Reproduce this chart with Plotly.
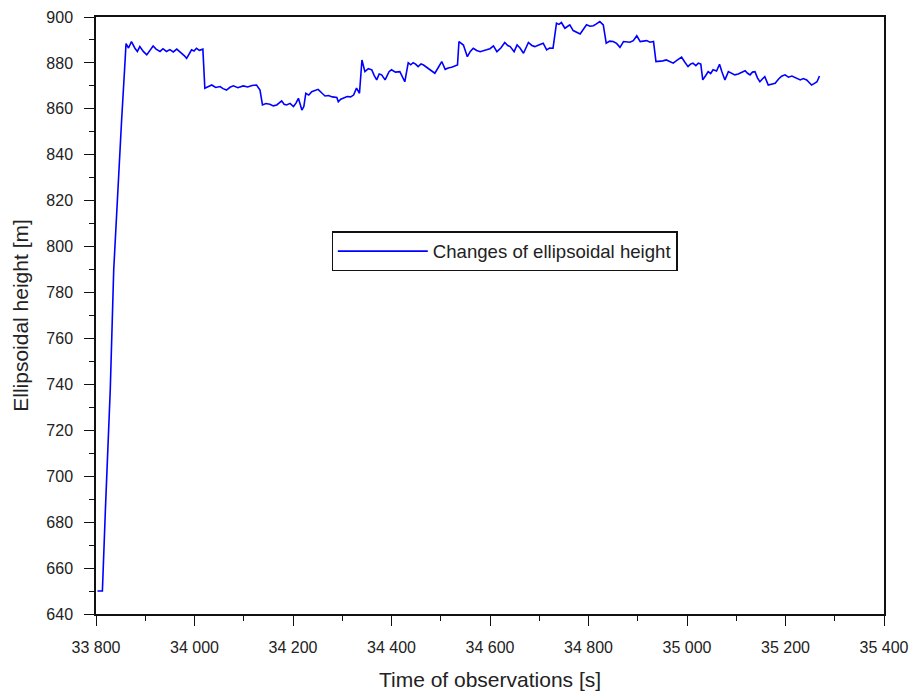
import plotly.graph_objects as go

# Time of observations [s]
time_s = [
    33803, 33813, 33819, 33825, 33829, 33836, 33845, 33852, 33858, 33861, 33866, 33872,
    33879, 33884, 33889, 33896, 33903, 33909, 33916, 33922, 33930, 33936, 33943, 33950,
    33957, 33964, 33969, 33974, 33979, 33984, 33989, 33994, 33999, 34004, 34010, 34017,
    34021, 34028, 34035, 34043, 34052, 34058, 34065, 34072, 34079, 34088, 34099, 34108,
    34117, 34126, 34133, 34138, 34145, 34153, 34160, 34167, 34172, 34177, 34182, 34187,
    34194, 34201, 34206, 34211, 34218, 34222, 34226, 34232, 34238, 34245, 34251, 34258,
    34265, 34272, 34280, 34289, 34292, 34297, 34302, 34310, 34317, 34323, 34329, 34335,
    34340, 34346, 34353, 34360, 34365, 34370, 34375, 34380, 34387, 34395, 34400, 34408,
    34417, 34422, 34427, 34434, 34439, 34444, 34449, 34454, 34460, 34465, 34472, 34478,
    34483, 34488, 34495, 34502, 34509, 34515, 34522, 34528, 34534, 34537, 34541, 34546,
    34554, 34560, 34566, 34573, 34580, 34587, 34593, 34600, 34607, 34614, 34622, 34630,
    34636, 34641, 34649, 34655, 34661, 34668, 34673, 34678, 34685, 34691, 34699, 34708,
    34715, 34721, 34728, 34735, 34740, 34745, 34752, 34757, 34762, 34769, 34776, 34783,
    34790, 34796, 34803, 34810, 34816, 34823, 34830, 34836, 34843, 34850, 34857, 34864,
    34871, 34877, 34884, 34891, 34898, 34905, 34911, 34918, 34925, 34932, 34937, 34945,
    34951, 34958, 34965, 34972, 34980, 34989, 34995, 35002, 35007, 35012, 35018, 35023,
    35028, 35032, 35038, 35043, 35048, 35053, 35060, 35066, 35071, 35077, 35084, 35090,
    35097, 35104, 35111, 35118, 35123, 35128, 35133, 35138, 35143, 35148, 35153, 35158,
    35165, 35172, 35179, 35186, 35192, 35199, 35206, 35213, 35220, 35230, 35236, 35243,
    35248, 35253, 35258, 35264, 35269,
]

# Ellipsoidal height [m]
height_m = [
    650.0, 650.0, 685.0, 721.0, 738.0, 790.0, 830.0, 855.0, 877.0, 888.4, 886.5, 889.3,
    886.4, 885.0, 887.1, 885.0, 883.5, 885.5, 887.4, 886.0, 885.0, 886.2, 885.0, 885.8,
    884.8, 886.0, 885.2, 884.2, 883.2, 882.0, 884.0, 885.7, 885.2, 886.4, 885.5, 886.0,
    869.0, 869.8, 870.4, 869.3, 869.7, 868.8, 868.2, 869.4, 870.0, 869.2, 870.0, 869.5,
    870.2, 870.4, 868.2, 861.7, 862.3, 862.0, 861.3, 861.7, 862.8, 863.5, 862.0, 861.7,
    862.4, 861.0, 862.5, 864.6, 859.5, 861.0, 866.8, 866.0, 867.5, 868.0, 868.5, 867.0,
    865.6, 865.8, 865.2, 865.0, 863.1, 864.2, 864.6, 865.4, 865.2, 866.0, 869.0, 866.8,
    881.3, 876.2, 877.5, 877.0, 874.5, 872.6, 875.2, 874.8, 872.6, 876.2, 877.0, 876.0,
    876.2, 874.0, 871.8, 880.1, 879.2, 880.1, 879.5, 878.4, 879.6, 879.1, 878.0, 877.2,
    876.5, 875.5, 878.0, 880.6, 877.2, 877.8, 878.1, 878.6, 879.1, 889.3, 888.5, 887.8,
    882.7, 885.0, 886.4, 885.4, 884.9, 885.5, 885.7, 886.2, 887.4, 884.9, 886.5, 888.9,
    887.6, 887.1, 884.9, 887.8, 886.5, 884.2, 886.5, 888.9, 887.6, 887.1, 887.8, 888.6,
    885.7, 886.5, 886.4, 897.3, 896.8, 897.6, 895.1, 896.0, 896.6, 894.1, 893.5, 892.6,
    894.8, 896.6, 896.0, 896.2, 897.0, 898.0, 896.6, 888.6, 889.5, 889.3, 888.5, 886.8,
    889.3, 889.3, 889.0, 889.7, 891.8, 889.3, 889.5, 889.7, 889.0, 889.3, 880.6, 880.6,
    880.9, 881.3, 880.5, 879.9, 881.2, 882.5, 880.5, 878.4, 879.5, 879.9, 878.8, 879.9,
    879.5, 872.6, 874.5, 876.2, 875.4, 877.0, 876.5, 879.4, 876.0, 872.6, 876.2, 875.5,
    874.8, 875.2, 875.8, 876.6, 875.5, 874.8, 876.0, 876.2, 873.5, 871.8, 873.0, 874.0,
    870.4, 870.8, 871.1, 873.0, 874.2, 874.8, 873.8, 874.3, 873.5, 872.6, 873.2, 872.6,
    871.5, 870.4, 871.0, 871.8, 874.3,
]

series_name = "Changes of ellipsoidal height"

x_ticks = [33800, 34000, 34200, 34400, 34600, 34800, 35000, 35200, 35400]
x_tick_labels = ["33 800", "34 000", "34 200", "34 400", "34 600", "34 800", "35 000", "35 200", "35 400"]
y_ticks = [640, 660, 680, 700, 720, 740, 760, 780, 800, 820, 840, 860, 880, 900]

font_family = "Liberation Sans, Arial, sans-serif"

fig = go.Figure()
fig.add_trace(go.Scatter(
    x=time_s, y=height_m, mode="lines", name=series_name,
    line=dict(color="#0000FF", width=1.6),
    showlegend=True,
))

fig.update_layout(
    width=917, height=695,
    margin=dict(l=96, r=33, t=17, b=81, autoexpand=False),
    paper_bgcolor="white", plot_bgcolor="white",
    font=dict(family=font_family, color="#222222", size=16),
    showlegend=True,
    legend=dict(
        x=0.299, y=0.641, xanchor="left", yanchor="top",
        bgcolor="white", bordercolor="#111111", borderwidth=1.2,
        font=dict(size=18.6, family=font_family, color="#222222"),
        itemwidth=90,
        tracegroupgap=0,
    ),
    xaxis=dict(
        range=[33800, 35400], tickvals=x_ticks, ticktext=x_tick_labels,
        automargin=False,
        showgrid=False, zeroline=False,
        showline=True, linecolor="#111111", linewidth=1.5, mirror=True,
        ticks="outside", ticklen=10, tickwidth=1.3, tickcolor="#111111",
        ticklabelstandoff=8,
        minor=dict(dtick=100, tick0=33800, ticks="outside", ticklen=5, tickwidth=1.2, tickcolor="#111111", showgrid=False),
        tickfont=dict(size=16),
        title=dict(text="Time of observations [s]", font=dict(size=21), standoff=17),
    ),
    yaxis=dict(
        range=[640, 900], tickvals=y_ticks,
        automargin=False,
        showgrid=False, zeroline=False,
        showline=True, linecolor="#111111", linewidth=1.5, mirror=True,
        ticks="outside", ticklen=10, tickwidth=1.3, tickcolor="#111111",
        ticklabelstandoff=8,
        minor=dict(dtick=10, tick0=640, ticks="outside", ticklen=5, tickwidth=1.2, tickcolor="#111111", showgrid=False),
        tickfont=dict(size=16),
        title=dict(text="Ellipsoidal height [m]", font=dict(size=21), standoff=12),
    ),
)

fig.write_html("out.html")
